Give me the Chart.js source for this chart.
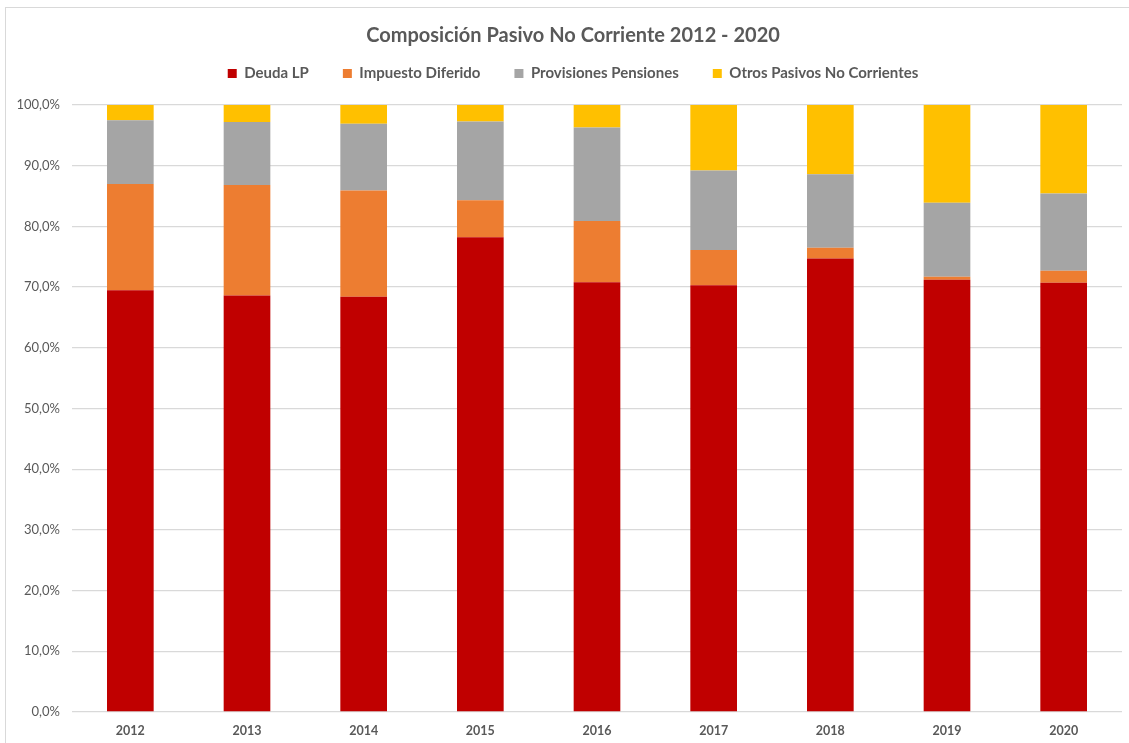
<!DOCTYPE html>
<html>
<head>
<meta charset="utf-8">
<script src="https://cdn.jsdelivr.net/npm/chart.js@4/dist/chart.umd.min.js"></script>
<style>
  html, body { margin: 0; padding: 0; background: #fff; overflow: hidden; }
  #wrap {
    position: absolute; left: 5px; top: 7px;
    width: 1134px; height: 735px;
    border-left: 1px solid #d9d9d9; border-top: 1px solid #d9d9d9;
  }
</style>
</head>
<body>
<div id="wrap"><canvas id="pasivoChart"></canvas></div>
<script>
Chart.defaults.font.family = 'Lato, "Open Sans", sans-serif';
Chart.defaults.color = '#595959';

const years = ['2012','2013','2014','2015','2016','2017','2018','2019','2020'];
// share of non-current liabilities, % of total
const deudaLP      = [69.5, 68.6, 68.4, 78.2, 70.8, 70.3, 74.7, 71.2, 70.7];
const impuestoDif  = [17.5, 18.2, 17.5,  6.1, 10.1,  5.8,  1.8,  0.5,  2.0];
const provPension  = [10.5, 10.4, 11.0, 13.0, 15.4, 13.1, 12.1, 12.2, 12.7];
const otrosPasivos = [ 2.5,  2.8,  3.1,  2.7,  3.7, 10.8, 11.4, 16.1, 14.6];
const yTicks = [0, 10, 20, 30, 40, 50, 60, 70, 80, 90, 100];

// extra room between legend and plot
const legendGap = {
  id: 'legendGap',
  beforeInit(chart) {
    const fit = chart.legend.fit;
    chart.legend.fit = function () {
      fit.call(this);
      this.height += 14;
    };
  }
};

const ctx = document.getElementById('pasivoChart');
new Chart(ctx.getContext('2d'), {
  type: 'bar',
  data: {
    labels: years,
    datasets: [
      { label: 'Deuda LP', data: deudaLP, backgroundColor: '#C00000' },
      { label: 'Impuesto Diferido', data: impuestoDif, backgroundColor: '#ED7D31' },
      { label: 'Provisiones Pensiones', data: provPension, backgroundColor: '#A5A5A5' },
      { label: 'Otros Pasivos No Corrientes', data: otrosPasivos, backgroundColor: '#FFC000' }
    ]
  },
  options: {
    responsive: true,
    maintainAspectRatio: false,
    animation: false,
    layout: { padding: 0 },
    datasets: { bar: { barPercentage: 0.4, categoryPercentage: 1.0, borderWidth: 0 } },
    plugins: {
      title: {
        display: true,
        text: 'Composición Pasivo No Corriente 2012 - 2020',
        color: '#595959',
        font: { size: 20, weight: 'bold' },
        padding: { top: 16, bottom: -16 }
      },
      legend: {
        position: 'top',
        labels: {
          boxWidth: 9, boxHeight: 9, padding: 34,
          color: '#595959',
          font: { size: 15, weight: 'bold' }
        }
      },
      tooltip: { enabled: false }
    },
    scales: {
      x: {
        stacked: true,
        grid: { display: false },
        border: { display: false },
        ticks: { color: '#595959', font: { size: 12.5, weight: 'bold' }, padding: 3 },
        afterFit(scale) { scale.height = 31; }
      },
      y: {
        stacked: true,
        min: 0, max: 100,
        afterBuildTicks(scale) { scale.ticks = yTicks.map(v => ({ value: v })); },
        grid: { color: '#d9d9d9', lineWidth: 1.3, drawTicks: false },
        border: { display: false },
        ticks: {
          color: '#595959', font: { size: 13 }, padding: 12,
          callback: v => v.toFixed(1).replace('.', ',') + '%'
        },
        afterFit(scale) { scale.width = 66; }
      },
      // empty margin on the right of the plot
      yRight: {
        position: 'right',
        min: 0, max: 100,
        grid: { display: false },
        border: { display: false },
        ticks: { display: false },
        afterFit(scale) { scale.width = 18; }
      }
    }
  },
  plugins: [legendGap]
});
</script>
</body>
</html>
